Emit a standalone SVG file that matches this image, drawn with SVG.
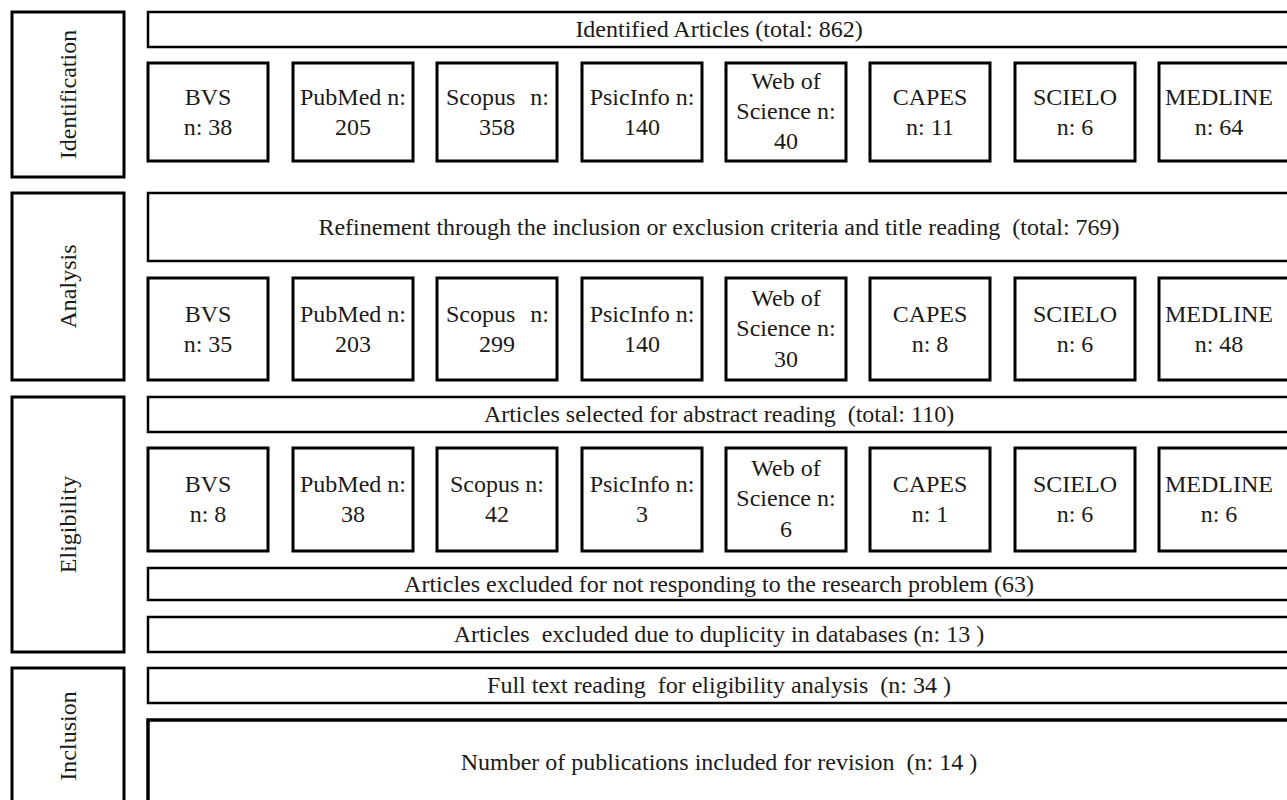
<svg xmlns="http://www.w3.org/2000/svg" width="1287" height="800" viewBox="0 0 1287 800">
<style>
.side{fill:#fff;stroke:#000;stroke-width:3}
.wide{fill:#fff;stroke:#000;stroke-width:2.5}
.box{fill:#fff;stroke:#000;stroke-width:3}
text{font-family:"Liberation Serif","Times New Roman",serif;font-size:24px;fill:#1a1a1a;text-anchor:middle}
.lbl{font-size:24px}
</style>
<rect width="1287" height="800" fill="#fff"/>

<g id="stage-identification">
<rect class="side" x="12" y="12" width="112" height="165"/>
<text class="lbl" transform="translate(76,94.5) rotate(-90)">Identification</text>
</g>
<g id="stage-analysis">
<rect class="side" x="12" y="193" width="112" height="187"/>
<text class="lbl" transform="translate(76,286.5) rotate(-90)">Analysis</text>
</g>
<g id="stage-eligibility">
<rect class="side" x="12" y="397" width="112" height="255"/>
<text class="lbl" transform="translate(76,524.5) rotate(-90)">Eligibility</text>
</g>
<g id="stage-inclusion">
<rect class="side" x="12" y="668" width="112" height="140"/>
<text class="lbl" transform="translate(76,736) rotate(-90)">Inclusion</text>
</g>

<g id="identified">
<rect class="wide" x="148" y="12" width="1150" height="35"/>
<text x="719" y="37">Identified Articles (total: 862)</text>
</g>
<g id="id-bvs"><rect class="box" x="148" y="63" width="120" height="98"/><text x="208" y="105">BVS</text><text x="208" y="135">n: 38</text></g>
<g id="id-pubmed"><rect class="box" x="293" y="63" width="120" height="98"/><text x="353" y="105">PubMed n:</text><text x="353" y="135">205</text></g>
<g id="id-scopus"><rect class="box" x="437" y="63" width="120" height="98"/><text x="446" y="105" style="text-anchor:start">Scopus</text><text x="549" y="105" style="text-anchor:end">n:</text><text x="497" y="135">358</text></g>
<g id="id-psicinfo"><rect class="box" x="582" y="63" width="120" height="98"/><text x="642" y="105">PsicInfo n:</text><text x="642" y="135">140</text></g>
<g id="id-wos"><rect class="box" x="726" y="63" width="120" height="98"/><text x="786" y="89">Web of</text><text x="786" y="119">Science n:</text><text x="786" y="149">40</text></g>
<g id="id-capes"><rect class="box" x="870" y="63" width="120" height="98"/><text x="930" y="105">CAPES</text><text x="930" y="135">n: 11</text></g>
<g id="id-scielo"><rect class="box" x="1015" y="63" width="120" height="98"/><text x="1075" y="105">SCIELO</text><text x="1075" y="135">n: 6</text></g>
<g id="id-medline"><rect class="box" x="1159" y="63" width="140" height="98"/><text x="1219" y="105">MEDLINE</text><text x="1219" y="135">n: 64</text></g>

<g id="refinement">
<rect class="wide" x="148" y="193" width="1150" height="68"/>
<text x="719" y="235" xml:space="preserve">Refinement through the inclusion or exclusion criteria and title reading  (total: 769)</text>
</g>
<g id="an-bvs"><rect class="box" x="148" y="278" width="120" height="102"/><text x="208" y="322">BVS</text><text x="208" y="352">n: 35</text></g>
<g id="an-pubmed"><rect class="box" x="293" y="278" width="120" height="102"/><text x="353" y="322">PubMed n:</text><text x="353" y="352">203</text></g>
<g id="an-scopus"><rect class="box" x="437" y="278" width="120" height="102"/><text x="446" y="322" style="text-anchor:start">Scopus</text><text x="549" y="322" style="text-anchor:end">n:</text><text x="497" y="352">299</text></g>
<g id="an-psicinfo"><rect class="box" x="582" y="278" width="120" height="102"/><text x="642" y="322">PsicInfo n:</text><text x="642" y="352">140</text></g>
<g id="an-wos"><rect class="box" x="726" y="278" width="120" height="102"/><text x="786" y="306">Web of</text><text x="786" y="336">Science n:</text><text x="786" y="367">30</text></g>
<g id="an-capes"><rect class="box" x="870" y="278" width="120" height="102"/><text x="930" y="322">CAPES</text><text x="930" y="352">n: 8</text></g>
<g id="an-scielo"><rect class="box" x="1015" y="278" width="120" height="102"/><text x="1075" y="322">SCIELO</text><text x="1075" y="352">n: 6</text></g>
<g id="an-medline"><rect class="box" x="1159" y="278" width="140" height="102"/><text x="1219" y="322">MEDLINE</text><text x="1219" y="352">n: 48</text></g>

<g id="selected">
<rect class="wide" x="148" y="397" width="1150" height="35"/>
<text x="719" y="422" xml:space="preserve">Articles selected for abstract reading  (total: 110)</text>
</g>
<g id="el-bvs"><rect class="box" x="148" y="448" width="120" height="103"/><text x="208" y="492">BVS</text><text x="208" y="522">n: 8</text></g>
<g id="el-pubmed"><rect class="box" x="293" y="448" width="120" height="103"/><text x="353" y="492">PubMed n:</text><text x="353" y="522">38</text></g>
<g id="el-scopus"><rect class="box" x="437" y="448" width="120" height="103"/><text x="497" y="492">Scopus n:</text><text x="497" y="522">42</text></g>
<g id="el-psicinfo"><rect class="box" x="582" y="448" width="120" height="103"/><text x="642" y="492">PsicInfo n:</text><text x="642" y="522">3</text></g>
<g id="el-wos"><rect class="box" x="726" y="448" width="120" height="103"/><text x="786" y="476">Web of</text><text x="786" y="506">Science n:</text><text x="786" y="537">6</text></g>
<g id="el-capes"><rect class="box" x="870" y="448" width="120" height="103"/><text x="930" y="492">CAPES</text><text x="930" y="522">n: 1</text></g>
<g id="el-scielo"><rect class="box" x="1015" y="448" width="120" height="103"/><text x="1075" y="492">SCIELO</text><text x="1075" y="522">n: 6</text></g>
<g id="el-medline"><rect class="box" x="1159" y="448" width="140" height="103"/><text x="1219" y="492">MEDLINE</text><text x="1219" y="522">n: 6</text></g>

<g id="excluded-problem">
<rect class="wide" x="148" y="568" width="1150" height="32"/>
<text x="719" y="592">Articles excluded for not responding to the research problem (63)</text>
</g>
<g id="excluded-duplicity">
<rect class="wide" x="148" y="617" width="1150" height="35"/>
<text x="719" y="642" xml:space="preserve">Articles  excluded due to duplicity in databases (n: 13 )</text>
</g>
<g id="full-text">
<rect class="wide" x="148" y="668" width="1150" height="35"/>
<text x="719" y="693" xml:space="preserve">Full text reading  for eligibility analysis  (n: 34 )</text>
</g>
<g id="included">
<rect class="wide" x="148" y="720" width="1150" height="90" style="stroke-width:3.5"/>
<text x="719" y="770" xml:space="preserve">Number of publications included for revision  (n: 14 )</text>
</g>

<g id="connectors"></g>
</svg>
